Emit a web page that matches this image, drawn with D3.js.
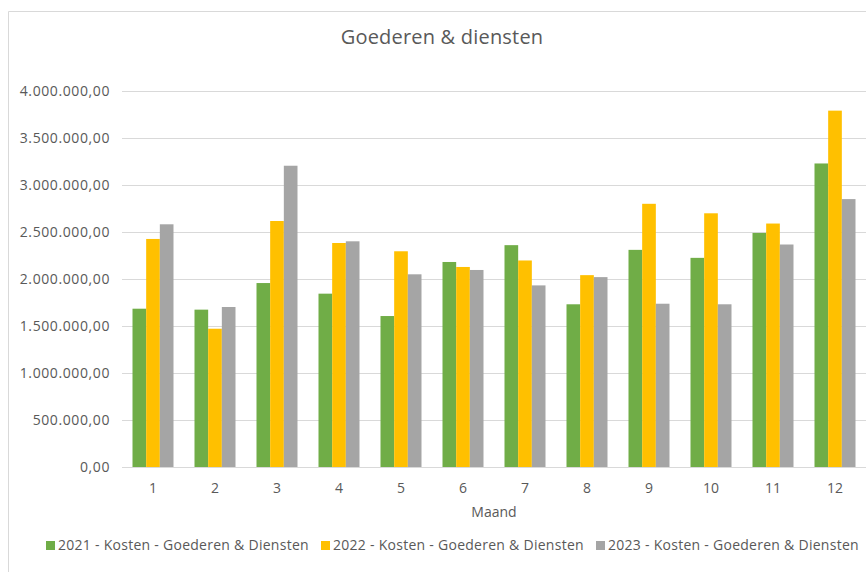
<!DOCTYPE html>
<html><head><meta charset="utf-8">
<script src="https://cdn.jsdelivr.net/npm/d3@7"></script>
<style>
html,body{margin:0;padding:0;background:#fff;}
svg{display:block;font-family:"Open Sans",sans-serif;}
</style></head>
<body>
<script>
const months = ["1","2","3","4","5","6","7","8","9","10","11","12"];
const seriesNames = ["2021 - Kosten - Goederen & Diensten","2022 - Kosten - Goederen & Diensten","2023 - Kosten - Goederen & Diensten"];
const values2021 = [1684000,1674000,1957000,1844000,1606000,2181000,2360000,1731000,2310000,2225000,2490000,3229000];
const values2022 = [2426000,1471000,2617000,2383000,2295000,2128000,2197000,2041000,2800000,2699000,2590000,3791000];
const values2023 = [2582000,1702000,3205000,2401000,2050000,2096000,1932000,2020000,1737000,1731000,2367000,2850000];
const yTicks = [0,500000,1000000,1500000,2000000,2500000,3000000,3500000,4000000];
const colors = ["#70AD47","#FFC000","#A5A5A5"];
const title = "Goederen & diensten";
const xTitle = "Maand";

const W = 866, H = 572;
const svg = d3.select("body").append("svg").attr("width", W).attr("height", H);
const allSeries = [values2021, values2022, values2023];

// chart border
svg.append("path").attr("d", `M8.5,${H} L8.5,11.5 L${W},11.5`).attr("fill","none").attr("stroke","#D9D9D9").attr("stroke-width",1);

const plot = {left:122, right:866, top:91, bottom:467};
const x = d3.scaleBand().domain(months).range([plot.left, plot.right]).paddingInner(21/62).paddingOuter(21/124);
const xs = d3.scaleBand().domain(d3.range(3)).range([0, x.bandwidth()]);
const y = d3.scaleLinear().domain([0,4000000]).range([plot.bottom, plot.top]);

const nl = d3.formatLocale({decimal:",", thousands:".", grouping:[3], currency:["€",""]});
const fmt = nl.format(",.2f");

// gridlines
svg.append("g").selectAll("line").data(yTicks).join("line")
  .attr("x1", plot.left).attr("x2", plot.right)
  .attr("y1", d=>Math.round(y(d))+0.5).attr("y2", d=>Math.round(y(d))+0.5)
  .attr("stroke","#D9D9D9").attr("stroke-width",1);

// y axis labels
const yAxis = d3.axisLeft(y).tickValues(yTicks).tickFormat(fmt).tickSize(0).tickPadding(12);
const gy = svg.append("g").attr("transform",`translate(${plot.left},0)`).call(yAxis);
gy.select(".domain").remove();
gy.selectAll("text").attr("fill","#595959").style("font-size","14px").style("font-family","'Open Sans',sans-serif").style("letter-spacing","0.6px");

// bars
allSeries.forEach((vals, si) => {
  svg.append("g").selectAll("rect").data(vals).join("rect")
    .attr("x", (d,i)=>x(months[i]) + xs(si))
    .attr("y", d=>y(d))
    .attr("width", xs.bandwidth())
    .attr("height", d=>plot.bottom - y(d))
    .attr("fill", colors[si]);
});

// x axis
const xAxis = d3.axisBottom(x).tickSize(0).tickPadding(16);
const gx = svg.append("g").attr("transform",`translate(0,${plot.bottom})`).call(xAxis);
gx.select(".domain").remove();
gx.selectAll("text").attr("fill","#595959").style("font-size","14px").style("font-family","'Open Sans',sans-serif");

// title
svg.append("text").attr("x", 442).attr("y", 44).attr("text-anchor","middle")
  .attr("fill","#595959").style("font-size","20px").style("letter-spacing","0.2px").text(title);

// x title
svg.append("text").attr("x", (plot.left+plot.right)/2).attr("y", 517).attr("text-anchor","middle")
  .attr("fill","#595959").style("font-size","14px").text(xTitle);

// legend
const legendX = [46, 321, 596];
const lg = svg.append("g");
seriesNames.forEach((name, i) => {
  lg.append("rect").attr("x", legendX[i]).attr("y", 541).attr("width", 9).attr("height", 9).attr("fill", colors[i]);
  lg.append("text").attr("x", legendX[i]+12).attr("y", 550).attr("fill","#595959")
    .style("font-size","14px").style("letter-spacing","0.27px").text(name);
});
</script>
</body></html>
